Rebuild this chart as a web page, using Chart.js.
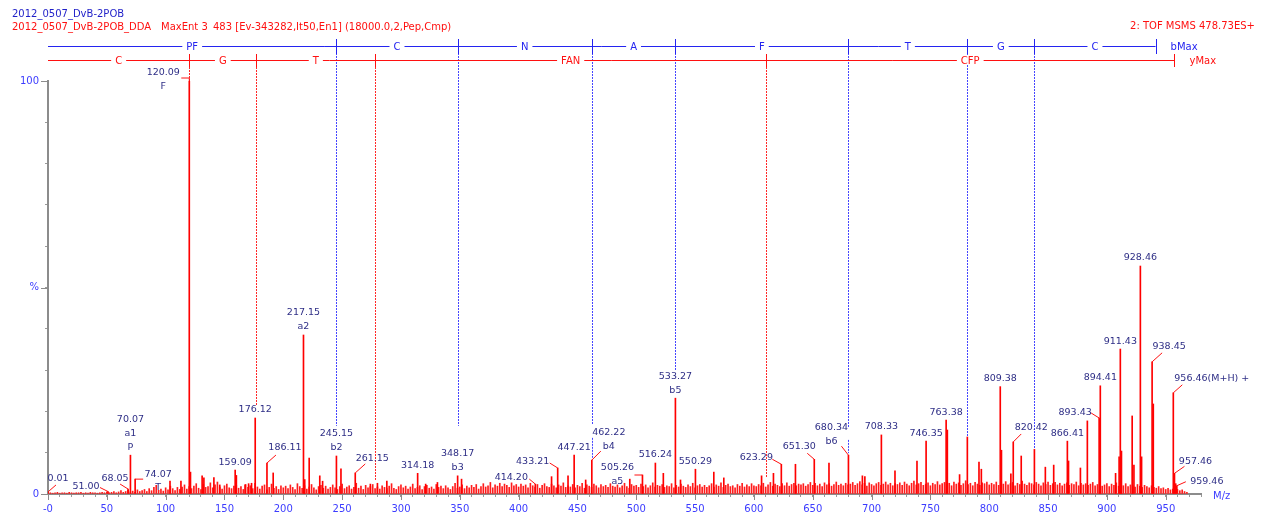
<!DOCTYPE html>
<html lang="en">
<head>
<meta charset="UTF-8">
<title>2012_0507_DvB-2POB MaxEnt 3</title>
<script src="https://cdn.jsdelivr.net/npm/chart.js"></script>
<style>
  html, body { margin: 0; padding: 0; background: #fff; }
  #wrap { width: 1267px; height: 521px; }
</style>
</head>
<body>
<div id="wrap"><canvas id="spec" width="1267" height="521"></canvas></div>
<script>
// ---- values (m/z, % intensity) ----

// labelled peaks
const labelMz = [0.01, 51.00, 68.05, 70.07, 74.07, 120.09, 159.09, 176.12, 186.11, 217.15,
                 245.15, 261.15, 314.18, 348.17, 414.20, 433.21, 447.21, 462.22, 505.26, 516.24,
                 533.27, 550.29, 623.29, 651.30, 680.34, 708.33, 746.35, 763.38, 809.38, 820.42,
                 866.41, 893.43, 894.41, 911.43, 928.46, 938.45, 956.46, 957.46, 959.46];
const labelInt = [0.5, 0.6, 1.2, 9.4, 3.6, 100, 5.8, 18.4, 7.5, 38.5,
                  9.2, 5.1, 5.0, 4.4, 2.4, 6.3, 9.4, 8.2, 4.6, 7.5,
                  23.2, 6.0, 7.2, 8.4, 9.4, 14.3, 12.8, 17.9, 26.0, 12.6,
                  12.8, 18.4, 26.2, 35.1, 55.2, 32.0, 24.5, 5.0, 2.0];
const labelText = [["0.01"], ["51.00"], ["68.05"], ["70.07", "a1", "P"], ["74.07", "T"],
                   ["120.09", "F"], ["159.09"], ["176.12"], ["186.11"], ["217.15", "a2"],
                   ["245.15", "b2"], ["261.15"], ["314.18"], ["348.17", "b3"], ["414.20"],
                   ["433.21"], ["447.21"], ["462.22", "b4"], ["505.26", "a5"], ["516.24"],
                   ["533.27", "b5"], ["550.29"], ["623.29"], ["651.30"], ["680.34", "b6"],
                   ["708.33"], ["746.35"], ["763.38"], ["809.38"], ["820.42"],
                   ["866.41"], ["893.43"], ["894.41"], ["911.43"], ["928.46"],
                   ["938.45"], ["956.46(M+H) +"], ["957.46"], ["959.46"]];

// other clear peaks without labels
const minorMz = [103.7, 113.0, 121.1, 131.0, 132.5, 141.0, 146.0, 160.1, 167.5, 170.5,
                 173.0, 191.4, 218.2, 222.0, 231.0, 233.4, 249.0, 274.0, 280.0, 288.0,
                 321.0, 331.0, 351.5, 428.0, 442.0, 457.0, 494.5, 523.0, 537.6, 565.9,
                 574.4, 606.5, 616.6, 635.3, 663.8, 692.2, 694.3, 719.9, 738.6, 764.4,
                 774.8, 781.4, 791.3, 793.3, 810.4, 818.4, 827.2, 838.4, 847.7, 854.8,
                 867.4, 877.5, 883.4, 907.4, 910.4, 912.4, 921.5, 923.0, 929.5, 939.45, 958.5];
const minorInt = [3.1, 3.1, 5.3, 4.4, 3.9, 4.0, 2.2, 4.5, 2.2, 2.5,
                  2.6, 5.1, 3.5, 8.7, 4.4, 3.1, 6.1, 2.4, 2.6, 3.1,
                  2.4, 2.8, 3.6, 4.2, 4.4, 3.4, 3.6, 5.0, 3.4, 5.3,
                  3.9, 4.4, 5.0, 7.2, 7.5, 4.4, 4.2, 5.6, 8.0, 15.5,
                  4.7, 13.8, 7.7, 6.0, 10.6, 4.9, 9.2, 10.8, 6.5, 7.0,
                  8.0, 6.3, 17.7, 5.0, 9.0, 10.4, 18.9, 7.0, 9.0, 21.8, 2.5];

// baseline noise, one value every 2 Da starting at m/z 2
const noiseStart = 2, noiseStep = 2;
const noiseInt = [
  0.3,0.2,0.3,0.4,0.2,0.3,0.3,0.2,0.4,0.3,0.2,0.3,0.3,0.4,0.2,0.3,0.2,0.4,0.3,0.3,
  0.2,0.3,0.4,0.3,0.5,0.3,0.4,0.6,0.3,0.5,0.8,0.4,0.6,0.9,0.5,0.7,0.4,1.0,0.6,0.8,
  1.1,0.6,1.3,0.8,1.6,2.1,0.9,1.2,0.7,1.5,1.0,1.9,1.3,0.8,1.6,1.1,1.7,2.2,1.2,1.8,
  1.3,1.9,2.5,1.4,1.1,2.3,1.6,1.8,2.7,1.5,2.2,2.9,1.7,1.2,2.0,2.4,1.5,1.3,1.9,2.1,
  1.4,1.8,1.1,2.3,1.6,2.0,1.3,2.6,1.7,1.2,1.9,2.2,1.0,1.6,2.4,1.4,1.8,1.1,2.0,1.5,
  1.9,1.3,2.2,1.6,1.1,2.5,1.8,1.4,2.0,1.2,1.7,2.3,1.5,1.0,1.8,2.1,1.4,1.9,1.2,1.6,
  2.2,1.5,1.1,1.8,2.4,1.3,1.7,2.0,1.2,1.6,2.6,1.4,1.9,1.1,2.1,1.5,1.8,2.3,1.3,1.7,
  1.2,2.0,1.6,1.3,1.9,2.5,1.4,1.1,1.8,2.2,1.5,1.9,1.2,1.7,2.4,1.3,1.6,2.0,1.1,1.8,
  2.1,1.4,1.7,1.2,2.3,1.6,1.9,1.3,2.0,1.5,1.1,1.8,2.6,1.4,1.7,2.2,1.3,1.9,1.5,2.1,
  1.6,2.3,1.2,1.8,2.5,1.7,2.0,2.8,1.5,2.2,1.9,2.6,1.8,2.4,2.1,1.6,2.7,2.0,2.3,1.7,
  2.4,1.9,2.2,1.5,2.6,2.0,1.7,2.3,1.4,2.1,2.5,1.8,1.6,2.4,2.0,1.5,2.2,1.9,2.7,1.6,
  2.0,1.7,2.3,1.5,2.1,1.8,2.6,1.4,2.2,1.9,1.6,2.4,2.0,1.5,2.3,1.8,2.1,1.6,2.5,1.9,
  1.7,2.2,1.5,2.0,2.6,1.8,1.4,2.3,1.9,2.1,1.6,2.4,1.8,2.2,1.5,2.0,2.7,1.7,2.1,1.9,
  2.3,1.6,2.0,1.8,2.5,1.5,2.1,1.7,2.4,1.9,1.6,2.2,1.8,2.6,1.5,2.0,2.3,1.7,2.1,1.6,
  2.0,2.5,1.7,2.2,1.9,2.7,1.6,2.1,2.4,1.8,2.0,1.5,2.3,1.9,2.6,1.7,2.2,1.8,2.5,2.0,
  1.8,2.3,2.0,2.6,1.7,2.2,2.8,1.9,2.4,2.1,1.8,2.5,2.0,2.7,1.9,2.3,2.6,2.0,2.4,2.2,
  2.5,1.9,2.3,2.8,2.1,2.6,2.0,2.4,1.8,2.7,2.2,2.5,1.9,2.3,2.9,2.1,2.4,2.0,2.6,2.2,
  2.4,2.8,2.1,2.5,3.0,2.2,2.6,1.9,2.7,2.3,2.0,2.5,2.8,2.1,2.4,2.9,2.2,2.6,2.0,2.5,
  2.3,2.7,2.1,2.9,2.4,2.0,2.6,3.1,2.2,2.5,2.8,2.1,2.4,2.7,2.0,2.6,2.3,3.0,2.2,2.5,
  2.8,2.2,2.6,2.0,2.9,2.4,2.7,2.1,2.5,3.2,2.3,2.6,2.0,2.8,2.4,2.1,2.7,2.5,2.9,2.2,
  2.6,2.3,2.9,2.1,2.7,2.4,3.0,2.2,2.5,2.8,2.0,2.6,2.3,3.1,2.4,2.1,2.7,2.5,2.2,2.8,
  2.4,2.0,2.7,2.3,2.9,2.1,2.5,2.8,2.2,2.6,2.0,2.4,2.7,2.1,2.5,2.3,2.9,2.0,2.6,2.2,
  2.5,2.1,2.4,2.8,2.0,2.3,2.6,1.9,2.2,2.5,1.8,2.4,2.1,2.7,1.9,2.3,2.0,2.5,1.8,2.2,
  2.0,1.7,2.3,1.9,1.6,2.1,1.8,1.5,2.0,1.6,1.4,1.8,1.3,1.5,1.1,1.4,1.0,1.2,0.9,1.1,
  0.8,1.0,0.6,0.4
];

// sequence ladders: b series (blue) and y series (red)
const bLadderMz  = [0, 245.13, 348.14, 462.18, 533.22, 680.29, 781.34, 838.36, 941.37];
const bLadderRes = ["PF", "C", "N", "A", "F", "T", "G", "C"];
const bDropTo    = [16.5, 16.5, 16.9, 30.0, 16.0, 13.8, 10.8];   // dotted drop ends, b2..b8
const yLadderMz  = [0, 120.09, 177.11, 278.16, 610.31, 957.44];
const yLadderRes = ["C", "G", "T", "FAN", "CFP"];
const yDropTo    = [100, 21.5, 3.4, 3.9];
const bDropExtra = [[462.18, 13.6, 8.7], [680.29, 13.1, 9.9]];

// ---- label placement (pixel offsets from the peak top) ----
const labelPlace = {
  "0.01":   { t: [10, -13], l: [[8, -7]] },
  "51.00":  { t: [-22, -5], l: [[-8, -4]] },
  "68.05":  { t: [-13, -11], l: [[-8, -5]] },
  "74.07":  { t: [23, -5], l: [[8, 0]], s: 13 },
  "120.09": { t: [-26, -8], l: [[0, -3], [-8, -3]] },
  "186.11": { t: [18, -15], l: [[9, -8]] },
  "261.15": { t: [17, -14], l: [[10, -9]] },
  "414.20": { t: [-24, -7], l: [[-6, -5]] },
  "433.21": { t: [-25, -6], l: [[-8, -5]] },
  "462.22": { t: [17, -28], l: [[9, -9]] },
  "505.26": { t: [-25, -7], l: [[-8, 0]] },
  "623.29": { t: [-25, -7], l: [[-9, -5]] },
  "651.30": { t: [-15, -13], l: [[-7, -6]] },
  "680.34": { t: [-17, -28], l: [[-7, -9]] },
  "820.42": { t: [18, -14], l: [[8, -8]] },
  "893.43": { t: [-24, -5], l: [[-8, -5]] },
  "938.45": { t: [17, -15], l: [[10, -9]] },
  "956.46(M+H) +": { t: [1, -14], l: [[9, -8]], a: "left" },
  "957.46": { t: [21, -12], l: [[10, -7]] },
  "959.46": { t: [30, -4], l: [[9, -4]] }
};

const FONT = '"DejaVu Sans", Verdana, sans-serif';
const RED = "#ff1010";
const BLUE = "#2424f0";
const NAVY = "#2e2e86";
const DOT_BLUE = "rgb(70,70,255)";
const DOT_RED = "rgb(255,40,40)";

const toPts = (xs, ys) => xs.map((v, i) => ({ x: v, y: ys[i] }));
const noisePts = noiseInt.map((v, i) => ({ x: noiseStart + i * noiseStep, y: v }));

function ladder(ctx, chart, mzs, names, yLine, tTop, tBot, color, endText) {
  const x = chart.scales.x;
  const x0 = x.getPixelForValue(mzs[0]);
  const x1 = x.getPixelForValue(mzs[mzs.length - 1]);
  ctx.strokeStyle = color;
  ctx.lineWidth = 1;
  ctx.setLineDash([]);
  ctx.beginPath();
  ctx.moveTo(x0, yLine + 0.5);
  ctx.lineTo(x1, yLine + 0.5);
  ctx.stroke();
  for (let i = 1; i < mzs.length; i++) {
    const px = Math.round(x.getPixelForValue(mzs[i])) + 0.5;
    ctx.beginPath();
    ctx.moveTo(px, tTop);
    ctx.lineTo(px, tBot);
    ctx.stroke();
  }
  ctx.font = "10px " + FONT;
  ctx.textAlign = "center";
  ctx.textBaseline = "middle";
  names.forEach((s, i) => {
    const cx = (x.getPixelForValue(mzs[i]) + x.getPixelForValue(mzs[i + 1])) / 2;
    const w = ctx.measureText(s).width + 8;
    ctx.fillStyle = "#fff";
    ctx.fillRect(cx - w / 2, yLine - 4, w, 9);
    ctx.fillStyle = color;
    ctx.fillText(s, cx, yLine + 1);
  });
  ctx.textAlign = "left";
  ctx.fillText(endText, x1 + 15, yLine + 1);
}

// dotted drop line from a ladder tick down to a given intensity
function dotted(ctx, chart, mz, fromPix, toVal, color) {
  const px = Math.round(chart.scales.x.getPixelForValue(mz)) + 0.5;
  const toPix = chart.scales.y.getPixelForValue(toVal);
  ctx.save();
  ctx.globalAlpha = 1;
  ctx.strokeStyle = color;
  ctx.lineWidth = 1;
  ctx.setLineDash([2, 1]);
  ctx.beginPath();
  ctx.moveTo(px, fromPix);
  ctx.lineTo(px, toPix);
  ctx.stroke();
  ctx.restore();
}

const massLynx = {
  id: "massLynx",
  beforeDatasetsDraw(chart) {
    const ctx = chart.ctx;
    bDropTo.forEach((v, i) => dotted(ctx, chart, bLadderMz[i + 1], 47, v, DOT_BLUE));
    bDropExtra.forEach(([mz, a, b]) => dotted(ctx, chart, mz, chart.scales.y.getPixelForValue(a), b, DOT_BLUE));
    yDropTo.forEach((v, i) => dotted(ctx, chart, yLadderMz[i + 1], 61, v, DOT_RED));
  },
  afterDatasetsDraw(chart) {
    const ctx = chart.ctx;
    const x = chart.scales.x, y = chart.scales.y;
    ctx.save();

    // longer marks on the major ticks
    ctx.strokeStyle = "#8c8c8c";
    ctx.lineWidth = 1;
    for (let v = 0; v <= 950; v += 50) {
      const px = Math.round(x.getPixelForValue(v)) + 0.5;
      ctx.beginPath(); ctx.moveTo(px, y.bottom); ctx.lineTo(px, y.bottom + 6); ctx.stroke();
    }
    [0, 50, 100].forEach(v => {
      const py = Math.round(y.getPixelForValue(v)) + 0.5;
      ctx.beginPath(); ctx.moveTo(x.left - 7, py); ctx.lineTo(x.left, py); ctx.stroke();
    });

    // peak labels with leader lines
    ctx.font = "9.5px " + FONT;
    ctx.textBaseline = "middle";
    labelMz.forEach((mz, i) => {
      const px = x.getPixelForValue(mz);
      const py = y.getPixelForValue(labelInt[i]);
      const lines = labelText[i];
      const p = labelPlace[lines[0]] || {};
      const step = p.s || 14;
      const t = p.t || [0, -8 - step * (lines.length - 1)];
      if (p.l) {
        ctx.strokeStyle = RED;
        ctx.beginPath();
        ctx.moveTo(px, py);
        p.l.forEach(([dx, dy]) => ctx.lineTo(px + dx, py + dy));
        ctx.stroke();
      }
      ctx.fillStyle = NAVY;
      ctx.textAlign = p.a || "center";
      lines.forEach((s, k) => ctx.fillText(s, px + t[0], py + t[1] + step * k));
    });

    // x axis unit
    ctx.fillStyle = "#3c3cff";
    ctx.font = "10px " + FONT;
    ctx.textAlign = "left";
    ctx.fillText("M/z", 1213, 496);
    ctx.restore();
  },
  afterDraw(chart) {
    const ctx = chart.ctx;
    ctx.save();
    ctx.font = "10px " + FONT;
    ctx.textBaseline = "middle";
    ctx.textAlign = "left";
    ctx.fillStyle = "#1f1fc8";
    ctx.fillText("2012_0507_DvB-2POB", 12, 14);
    ctx.fillStyle = RED;
    ctx.fillText("2012_0507_DvB-2POB_DDA", 12, 27);
    ctx.fillText("MaxEnt 3", 161, 27);
    ctx.fillText("483 [Ev-343282,It50,En1] (18000.0,2,Pep,Cmp)", 213, 27);
    ctx.textAlign = "right";
    ctx.fillText("2: TOF MSMS 478.73ES+", 1255, 26);

    ladder(ctx, chart, yLadderMz, yLadderRes, 60, 54, 67, RED, "yMax");
    ladder(ctx, chart, bLadderMz, bLadderRes, 46, 39, 54, BLUE, "bMax");
    ctx.restore();
  }
};

const barStyle = { barThickness: 1, grouped: false, borderWidth: 0 };

new Chart(document.getElementById("spec"), {
  type: "bar",
  data: {
    datasets: [
      Object.assign({ data: toPts(labelMz, labelInt), backgroundColor: "#ff0000" }, barStyle),
      Object.assign({ data: toPts(minorMz, minorInt), backgroundColor: "#ff0000" }, barStyle),
      Object.assign({ data: noisePts, backgroundColor: "#ff1c1c" }, barStyle)
    ]
  },
  options: {
    responsive: false,
    animation: false,
    layout: { padding: { top: 81, right: 66, left: 0, bottom: 0 } },
    plugins: { legend: { display: false }, tooltip: { enabled: false } },
    scales: {
      x: {
        type: "linear",
        min: 0,
        max: 980,
        offset: false,
        grid: { offset: false, drawOnChartArea: false, tickLength: 3, color: "#9a9a9a" },
        border: { color: "#8c8c8c", width: 2 },
        ticks: {
          stepSize: 10,
          autoSkip: false,
          maxRotation: 0,
          padding: 6,
          color: "#3c3cff",
          font: { family: FONT, size: 10 },
          callback: v => (v % 50 === 0 ? (v === 0 ? "-0" : String(v)) : "")
        },
        afterFit(s) { s.height = 27; }
      },
      y: {
        min: 0,
        max: 100,
        grid: { drawOnChartArea: false, tickLength: 3, color: "#9a9a9a" },
        border: { color: "#8c8c8c", width: 2 },
        ticks: {
          stepSize: 10,
          padding: 6,
          color: "#3c3cff",
          font: { family: FONT, size: 10 },
          callback: v => (v === 100 ? "100" : v === 50 ? "%" : v === 0 ? "0" : "")
        },
        afterFit(s) { s.width = 48; }
      }
    }
  },
  plugins: [massLynx]
});
</script>
</body>
</html>
